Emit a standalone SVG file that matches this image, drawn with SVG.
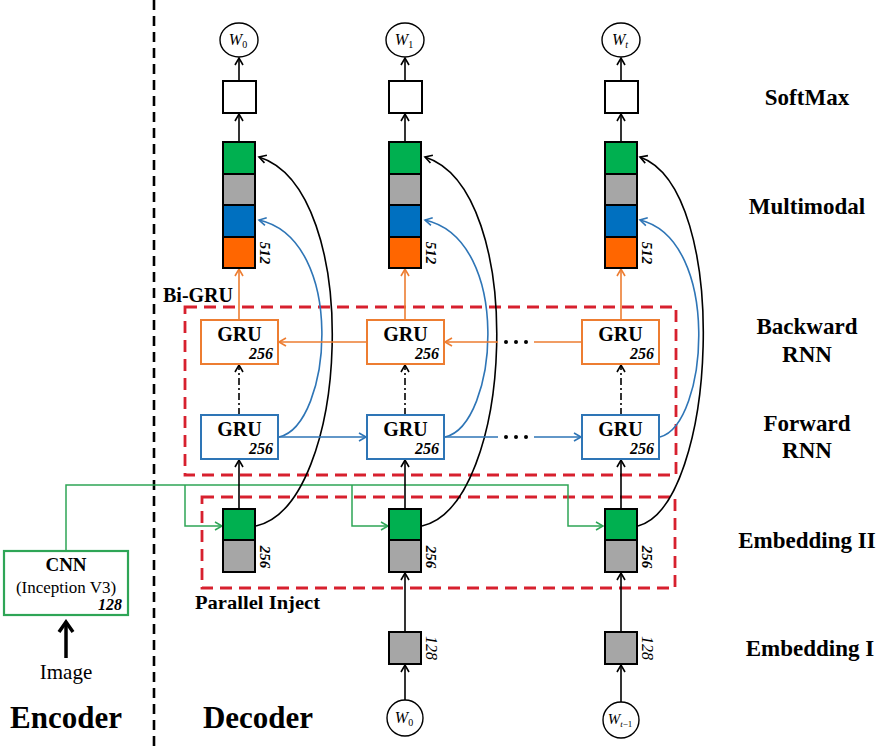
<svg xmlns="http://www.w3.org/2000/svg" width="895" height="748" viewBox="0 0 895 748">
<defs>
<style>
.bg{fill:#fff}
.ln{fill:none;stroke:#000;stroke-width:1.6}
.lnor{fill:none;stroke:#ed7d31;stroke-width:1.6}
.lnbl{fill:none;stroke:#2e75b6;stroke-width:1.6}
.lngr{fill:none;stroke:#2ea556;stroke-width:1.5}
.dd{stroke-dasharray:7 3 2 3}
.red{fill:none;stroke:#d7202e;stroke-width:2.8;stroke-dasharray:12 7}
.sep{fill:none;stroke:#000;stroke-width:2.6;stroke-dasharray:10 6}
.blk{stroke:#000;stroke-width:2}
.g{fill:#00b050}.gy{fill:#a6a6a6}.b{fill:#0070c0}.o{fill:#ff6600}.w{fill:#fff}
.circ{fill:#fff;stroke:#000;stroke-width:1.4}
.gruo{fill:#fff;stroke:#ed7d31;stroke-width:2}
.grub{fill:#fff;stroke:#2e75b6;stroke-width:2}
.cnn{fill:#fff;stroke:#2ea556;stroke-width:2.2}
.t{font-family:"Liberation Serif","Times New Roman",serif;fill:#000}
.bd{font-weight:bold}
.bi{font-weight:bold;font-style:italic}
.it{font-style:italic}
.mid{text-anchor:middle}
.end{text-anchor:end}
</style>
<marker id="ak" markerUnits="userSpaceOnUse" markerWidth="12" markerHeight="12" refX="10" refY="6" orient="auto"><path d="M3,2 L10,6 L3,10" fill="none" stroke="#000" stroke-width="1.6"/></marker>
<marker id="ao" markerUnits="userSpaceOnUse" markerWidth="12" markerHeight="12" refX="10" refY="6" orient="auto"><path d="M3,2 L10,6 L3,10" fill="none" stroke="#ed7d31" stroke-width="1.6"/></marker>
<marker id="ab" markerUnits="userSpaceOnUse" markerWidth="12" markerHeight="12" refX="10" refY="6" orient="auto"><path d="M3,2 L10,6 L3,10" fill="none" stroke="#2e75b6" stroke-width="1.6"/></marker>
<marker id="ag" markerUnits="userSpaceOnUse" markerWidth="12" markerHeight="12" refX="10" refY="6" orient="auto"><path d="M3,2 L10,6 L3,10" fill="none" stroke="#2ea556" stroke-width="1.5"/></marker>
<marker id="abig" markerUnits="userSpaceOnUse" markerWidth="16" markerHeight="18" refX="13" refY="9" orient="auto"><path d="M3,2 L13,9 L3,16" fill="none" stroke="#000" stroke-width="3.5"/></marker>
</defs>
<rect class="bg" x="0" y="0" width="895" height="748"/>

<!-- separator and dashed groups -->
<line class="sep" x1="154" y1="0" x2="154" y2="748"/>
<rect id="bigru-region" class="red" x="185" y="307" width="491" height="168"/>
<rect id="emb2-region" class="red" x="202" y="497" width="473" height="91"/>

<!-- connectors -->
<g id="connectors">
  <!-- green injection -->
  <path class="lngr" d="M66,551 V485 H568 V526 H603" marker-end="url(#ag)"/>
  <path class="lngr" d="M185,485 V526 H222" marker-end="url(#ag)"/>
  <path class="lngr" d="M352,485 V526 H388" marker-end="url(#ag)"/>
  <!-- image arrow -->
  <line x1="66" y1="658" x2="66" y2="622" stroke="#000" stroke-width="3.5" marker-end="url(#abig)"/>
  <!-- column 1 -->
  <line class="ln" x1="239" y1="81" x2="239" y2="58" marker-end="url(#ak)"/>
  <line class="ln" x1="239" y1="142" x2="239" y2="114" marker-end="url(#ak)"/>
  <line class="lnor" x1="239" y1="320" x2="239" y2="269" marker-end="url(#ao)"/>
  <line class="ln dd" x1="239" y1="415" x2="239" y2="365" marker-end="url(#ak)"/>
  <line class="ln" x1="239" y1="509" x2="239" y2="460" marker-end="url(#ak)"/>
  <path class="ln" d="M256,526 C350,505 364,190 259,157" marker-end="url(#ak)"/>
  <path class="lnbl" d="M279,437 C332,425 347,240 259,220" marker-end="url(#ab)"/>
  <!-- column 2 -->
  <line class="ln" x1="405" y1="81" x2="405" y2="58" marker-end="url(#ak)"/>
  <line class="ln" x1="405" y1="142" x2="405" y2="114" marker-end="url(#ak)"/>
  <line class="lnor" x1="405" y1="320" x2="405" y2="269" marker-end="url(#ao)"/>
  <line class="ln dd" x1="405" y1="415" x2="405" y2="365" marker-end="url(#ak)"/>
  <line class="ln" x1="405" y1="509" x2="405" y2="460" marker-end="url(#ak)"/>
  <line class="ln" x1="405" y1="632" x2="405" y2="573" marker-end="url(#ak)"/>
  <line class="ln" x1="405" y1="700" x2="405" y2="665" marker-end="url(#ak)"/>
  <path class="ln" d="M422,526 C514,505 528,190 425,157" marker-end="url(#ak)"/>
  <path class="lnbl" d="M445,437 C498,425 513,240 425,220" marker-end="url(#ab)"/>
  <!-- column 3 -->
  <line class="ln" x1="621" y1="81" x2="621" y2="58" marker-end="url(#ak)"/>
  <line class="ln" x1="621" y1="142" x2="621" y2="114" marker-end="url(#ak)"/>
  <line class="lnor" x1="621" y1="320" x2="621" y2="269" marker-end="url(#ao)"/>
  <line class="ln dd" x1="621" y1="415" x2="621" y2="365" marker-end="url(#ak)"/>
  <line class="ln" x1="621" y1="509" x2="621" y2="460" marker-end="url(#ak)"/>
  <line class="ln" x1="621" y1="632" x2="621" y2="573" marker-end="url(#ak)"/>
  <line class="ln" x1="621" y1="702" x2="621" y2="665" marker-end="url(#ak)"/>
  <path class="ln" d="M638,526 C717,505 732,190 640,157" marker-end="url(#ak)"/>
  <path class="lnbl" d="M660,437 C708,425 722,240 640,220" marker-end="url(#ab)"/>
  <!-- backward recurrences -->
  <line class="lnor" x1="367" y1="342" x2="279" y2="342" marker-end="url(#ao)"/>
  <line class="lnor" x1="582" y1="342" x2="534" y2="342"/>
  <line class="lnor" x1="498" y1="342" x2="445" y2="342" marker-end="url(#ao)"/>
  <!-- forward recurrences -->
  <line class="lnbl" x1="278" y1="437" x2="366" y2="437" marker-end="url(#ab)"/>
  <line class="lnbl" x1="444" y1="437" x2="498" y2="437"/>
  <line class="lnbl" x1="534" y1="437" x2="581" y2="437" marker-end="url(#ab)"/>
  <g fill="#000">
    <circle cx="506" cy="342" r="2"/><circle cx="516" cy="342" r="2"/><circle cx="526" cy="342" r="2"/>
    <circle cx="506" cy="437" r="2"/><circle cx="516" cy="437" r="2"/><circle cx="526" cy="437" r="2"/>
  </g>
</g>

<!-- output words -->
<g id="w0-out"><ellipse class="circ" cx="239" cy="40" rx="19" ry="17"/><text class="t mid" x="238" y="45" font-size="16"><tspan class="it">W</tspan><tspan font-size="10" dy="3">0</tspan></text></g>
<g id="w1-out"><ellipse class="circ" cx="405" cy="40" rx="19" ry="17"/><text class="t mid" x="404" y="45" font-size="16"><tspan class="it">W</tspan><tspan font-size="10" dy="3">1</tspan></text></g>
<g id="wt-out"><ellipse class="circ" cx="621" cy="40" rx="19" ry="17"/><text class="t mid" x="620" y="45" font-size="16"><tspan class="it">W</tspan><tspan class="it" font-size="10" dy="3">t</tspan></text></g>

<!-- softmax -->
<g id="softmax-1"><rect class="w blk" x="223" y="81" width="33" height="32"/></g>
<g id="softmax-2"><rect class="w blk" x="389" y="81" width="33" height="32"/></g>
<g id="softmax-3"><rect class="w blk" x="605" y="81" width="33" height="32"/></g>

<!-- multimodal -->
<g id="mm-1">
  <rect class="g blk" x="223" y="142" width="32" height="32"/><rect class="gy blk" x="223" y="174" width="32" height="31"/><rect class="b blk" x="223" y="205" width="32" height="32"/><rect class="o blk" x="223" y="237" width="32" height="31"/>
  <text class="t bi mid" transform="translate(265,253) rotate(90)" font-size="15" dominant-baseline="central">512</text>
</g>
<g id="mm-2">
  <rect class="g blk" x="389" y="142" width="32" height="32"/><rect class="gy blk" x="389" y="174" width="32" height="31"/><rect class="b blk" x="389" y="205" width="32" height="32"/><rect class="o blk" x="389" y="237" width="32" height="31"/>
  <text class="t bi mid" transform="translate(431,253) rotate(90)" font-size="15" dominant-baseline="central">512</text>
</g>
<g id="mm-3">
  <rect class="g blk" x="605" y="142" width="32" height="32"/><rect class="gy blk" x="605" y="174" width="32" height="31"/><rect class="b blk" x="605" y="205" width="32" height="32"/><rect class="o blk" x="605" y="237" width="32" height="31"/>
  <text class="t bi mid" transform="translate(647,253) rotate(90)" font-size="15" dominant-baseline="central">512</text>
</g>

<!-- backward GRU -->
<g id="bgru-1"><rect class="gruo" x="201" y="320" width="77" height="44"/><text class="t bd mid" x="239.5" y="341" font-size="20">GRU</text><text class="t bi end" x="273" y="359" font-size="16">256</text></g>
<g id="bgru-2"><rect class="gruo" x="367" y="320" width="77" height="44"/><text class="t bd mid" x="405.5" y="341" font-size="20">GRU</text><text class="t bi end" x="439" y="359" font-size="16">256</text></g>
<g id="bgru-3"><rect class="gruo" x="582" y="320" width="77" height="44"/><text class="t bd mid" x="620.5" y="341" font-size="20">GRU</text><text class="t bi end" x="654" y="359" font-size="16">256</text></g>

<!-- forward GRU -->
<g id="fgru-1"><rect class="grub" x="201" y="415" width="77" height="44"/><text class="t bd mid" x="239.5" y="436" font-size="20">GRU</text><text class="t bi end" x="273" y="454" font-size="16">256</text></g>
<g id="fgru-2"><rect class="grub" x="367" y="415" width="77" height="44"/><text class="t bd mid" x="405.5" y="436" font-size="20">GRU</text><text class="t bi end" x="439" y="454" font-size="16">256</text></g>
<g id="fgru-3"><rect class="grub" x="582" y="415" width="77" height="44"/><text class="t bd mid" x="620.5" y="436" font-size="20">GRU</text><text class="t bi end" x="654" y="454" font-size="16">256</text></g>

<!-- embedding II -->
<g id="emb2-1"><rect class="g blk" x="223" y="509" width="32" height="31"/><rect class="gy blk" x="223" y="540" width="32" height="32"/><text class="t bi mid" transform="translate(265,557) rotate(90)" font-size="15" dominant-baseline="central">256</text></g>
<g id="emb2-2"><rect class="g blk" x="389" y="509" width="32" height="31"/><rect class="gy blk" x="389" y="540" width="32" height="32"/><text class="t bi mid" transform="translate(431,557) rotate(90)" font-size="15" dominant-baseline="central">256</text></g>
<g id="emb2-3"><rect class="g blk" x="605" y="509" width="32" height="31"/><rect class="gy blk" x="605" y="540" width="32" height="32"/><text class="t bi mid" transform="translate(647,557) rotate(90)" font-size="15" dominant-baseline="central">256</text></g>

<!-- embedding I -->
<g id="emb1-2"><rect class="gy blk" x="389" y="632" width="32" height="32"/><text class="t it mid" transform="translate(431,648) rotate(90)" font-size="16" dominant-baseline="central">128</text></g>
<g id="emb1-3"><rect class="gy blk" x="605" y="632" width="32" height="32"/><text class="t it mid" transform="translate(647,648) rotate(90)" font-size="16" dominant-baseline="central">128</text></g>

<!-- input words -->
<g id="w0-in"><circle class="circ" cx="405" cy="718" r="18"/><text class="t mid" x="404" y="723" font-size="16"><tspan class="it">W</tspan><tspan font-size="10" dy="3">0</tspan></text></g>
<g id="wt1-in"><circle class="circ" cx="621" cy="720" r="18"/><text class="t mid" x="620" y="724" font-size="15"><tspan class="it">W</tspan><tspan font-size="9" dy="3"><tspan class="it">t</tspan>−1</tspan></text></g>

<!-- CNN -->
<g id="cnn">
  <rect class="cnn" x="4" y="551" width="124" height="64"/>
  <text class="t bd mid" x="66" y="571" font-size="19">CNN</text>
  <text class="t mid" x="66" y="593" font-size="17">(Inception V3)</text>
  <text class="t bi end" x="122" y="610" font-size="16">128</text>
</g>

<!-- labels -->
<text class="t mid" x="66" y="679" font-size="21">Image</text>
<text class="t bd mid" x="66" y="728" font-size="31">Encoder</text>
<text class="t bd mid" x="258" y="728" font-size="31">Decoder</text>
<text class="t bd" x="163" y="302" font-size="20">Bi-GRU</text>
<text class="t bd" x="195" y="609" font-size="19" textLength="125" lengthAdjust="spacingAndGlyphs">Parallel Inject</text>

<g id="row-labels">
  <text class="t bd mid" x="807" y="105" font-size="23">SoftMax</text>
  <text class="t bd mid" x="807" y="214" font-size="23">Multimodal</text>
  <text class="t bd mid" x="807" y="334" font-size="23">Backward</text>
  <text class="t bd mid" x="807" y="362" font-size="23">RNN</text>
  <text class="t bd mid" x="807" y="431" font-size="23">Forward</text>
  <text class="t bd mid" x="807" y="458" font-size="23">RNN</text>
  <text class="t bd mid" x="807" y="548" font-size="23">Embedding II</text>
  <text class="t bd mid" x="810" y="656" font-size="23">Embedding I</text>
</g>
</svg>
